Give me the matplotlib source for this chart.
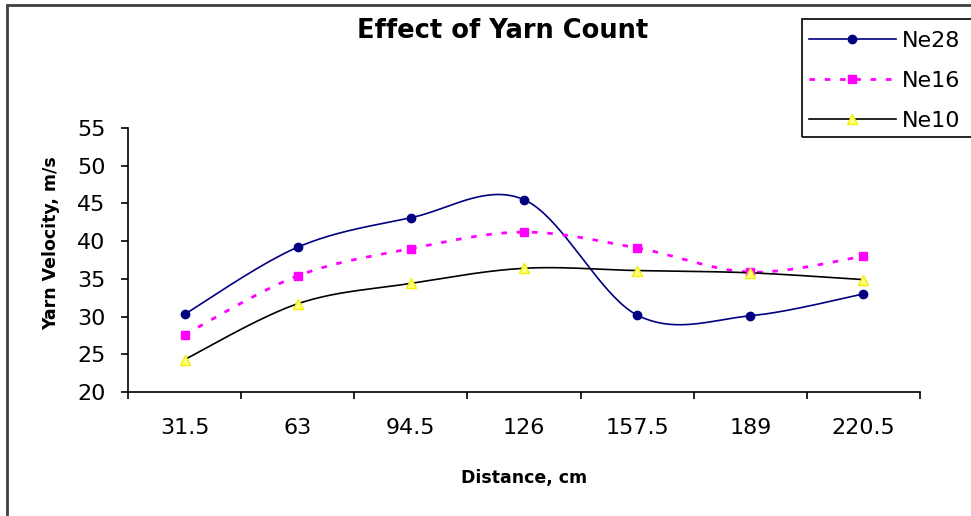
import numpy as np
import matplotlib
matplotlib.use("Agg")
import matplotlib.pyplot as plt
from matplotlib.lines import Line2D
from matplotlib.patches import Rectangle

plt.rcParams['font.family'] = ['DejaVu Sans']

categories = ["31.5", "63", "94.5", "126", "157.5", "189", "220.5"]
ne28 = [30.3, 39.2, 43.1, 45.5, 30.2, 30.1, 33.0]
ne16 = [27.6, 35.4, 39.0, 41.2, 39.1, 35.9, 38.0]
ne10 = [24.3, 31.7, 34.4, 36.4, 36.1, 35.8, 34.9]
series_names = ["Ne28", "Ne16", "Ne10"]
y_ticks = [20, 25, 30, 35, 40, 45, 50, 55]


def smooth(x, y, n=40):
    x = np.asarray(x, float)
    y = np.asarray(y, float)
    px = np.concatenate([[x[0]], x, [x[-1]]])
    py = np.concatenate([[y[0]], y, [y[-1]]])
    xs, ys = [], []
    t = np.linspace(0, 1, n)
    for i in range(len(x) - 1):
        p0x, p0y = px[i + 1], py[i + 1]
        p3x, p3y = px[i + 2], py[i + 2]
        c1x = p0x + (px[i + 2] - px[i]) / 6
        c1y = p0y + (py[i + 2] - py[i]) / 6
        c2x = p3x - (px[i + 3] - px[i + 1]) / 6
        c2y = p3y - (py[i + 3] - py[i + 1]) / 6
        b0 = (1 - t) ** 3
        b1 = 3 * (1 - t) ** 2 * t
        b2 = 3 * (1 - t) * t ** 2
        b3 = t ** 3
        xs.append(b0 * p0x + b1 * c1x + b2 * c2x + b3 * p3x)
        ys.append(b0 * p0y + b1 * c1y + b2 * c2y + b3 * p3y)
    return np.concatenate(xs), np.concatenate(ys)


fig = plt.figure(figsize=(9.71, 5.16), dpi=100)
W, H = 971, 516
ax = fig.add_axes([128 / W, 1 - 392 / H, 792 / W, 264 / H])

x = np.arange(len(categories))

styles = [
    dict(color='#000080', ls='-', lw=1.2, marker='o', ms=6, mfc='#000080', mec='#000080'),
    dict(color='#FF00FF', ls=(0, (2.0, 3.5)), lw=2.0, marker='s', ms=6, mfc='#FF00FF', mec='#FF00FF'),
    dict(color='#000000', ls='-', lw=1.2, marker='^', ms=6.5, mfc='#FFFF80', mec='#F0F000'),
]
handles = []
for vals, st, name in zip([ne28, ne16, ne10], styles, series_names):
    sx, sy = smooth(x, vals)
    ax.plot(sx, sy, color=st['color'], ls=st['ls'], lw=st['lw'], zorder=2)
    ax.plot(x, vals, ls='none', marker=st['marker'], ms=st['ms'],
            mfc=st['mfc'], mec=st['mec'], zorder=3)
    handles.append(Line2D([], [], color=st['color'], ls=st['ls'], lw=st['lw'],
                          marker=st['marker'], ms=st['ms'], mfc=st['mfc'], mec=st['mec']))

ax.set_xlim(-0.5, len(categories) - 0.5)
ax.set_ylim(20, 55)
ax.set_yticks(y_ticks)
ax.set_yticklabels([str(v) for v in y_ticks])
ax.set_xticks(np.arange(len(categories) + 1) - 0.5)
ax.set_xticklabels([])
ax.set_xticks(x, minor=True)
ax.set_xticklabels(categories, minor=True)
ax.tick_params(axis='x', which='major', direction='out', length=5, width=1.2)
ax.tick_params(axis='x', which='minor', length=0, pad=19, labelsize=16)
ax.tick_params(axis='y', direction='out', length=5, width=1.2, pad=11, labelsize=16)
for s in ['top', 'right']:
    ax.spines[s].set_visible(False)
for s in ['left', 'bottom']:
    ax.spines[s].set_linewidth(1.2)

fig.text(524 / W, 1 - 478 / H, "Distance, cm", ha='center', va='center',
         fontsize=12.5, fontweight='bold')
fig.text(51 / W, 1 - 243 / H, "Yarn Velocity, m/s", ha='center', va='center',
         rotation=90, fontsize=12.5, fontweight='bold')
fig.text(503 / W, 1 - 31 / H, "Effect of Yarn Count", ha='center', va='center',
         fontsize=18.5, fontweight='bold')

# outer chart border
fig.add_artist(Rectangle((7 / W, -0.05), 1.1, 1 - 5 / H + 0.05, transform=fig.transFigure,
                         fill=False, ec='#404040', lw=2))
# legend frame
fig.add_artist(Rectangle((802 / W, 1 - 137 / H), 0.3, 118 / H, transform=fig.transFigure,
                         fill=False, ec='#000000', lw=1.2, zorder=5))
fig.legend(handles, series_names, loc='upper left', bbox_to_anchor=(809 / W, 1 - 31 / H),
           frameon=False, fontsize=16, handlelength=3.9, handletextpad=0.3,
           labelspacing=0.9, borderpad=0.0, borderaxespad=0)

fig.savefig("out.png", dpi=100)
